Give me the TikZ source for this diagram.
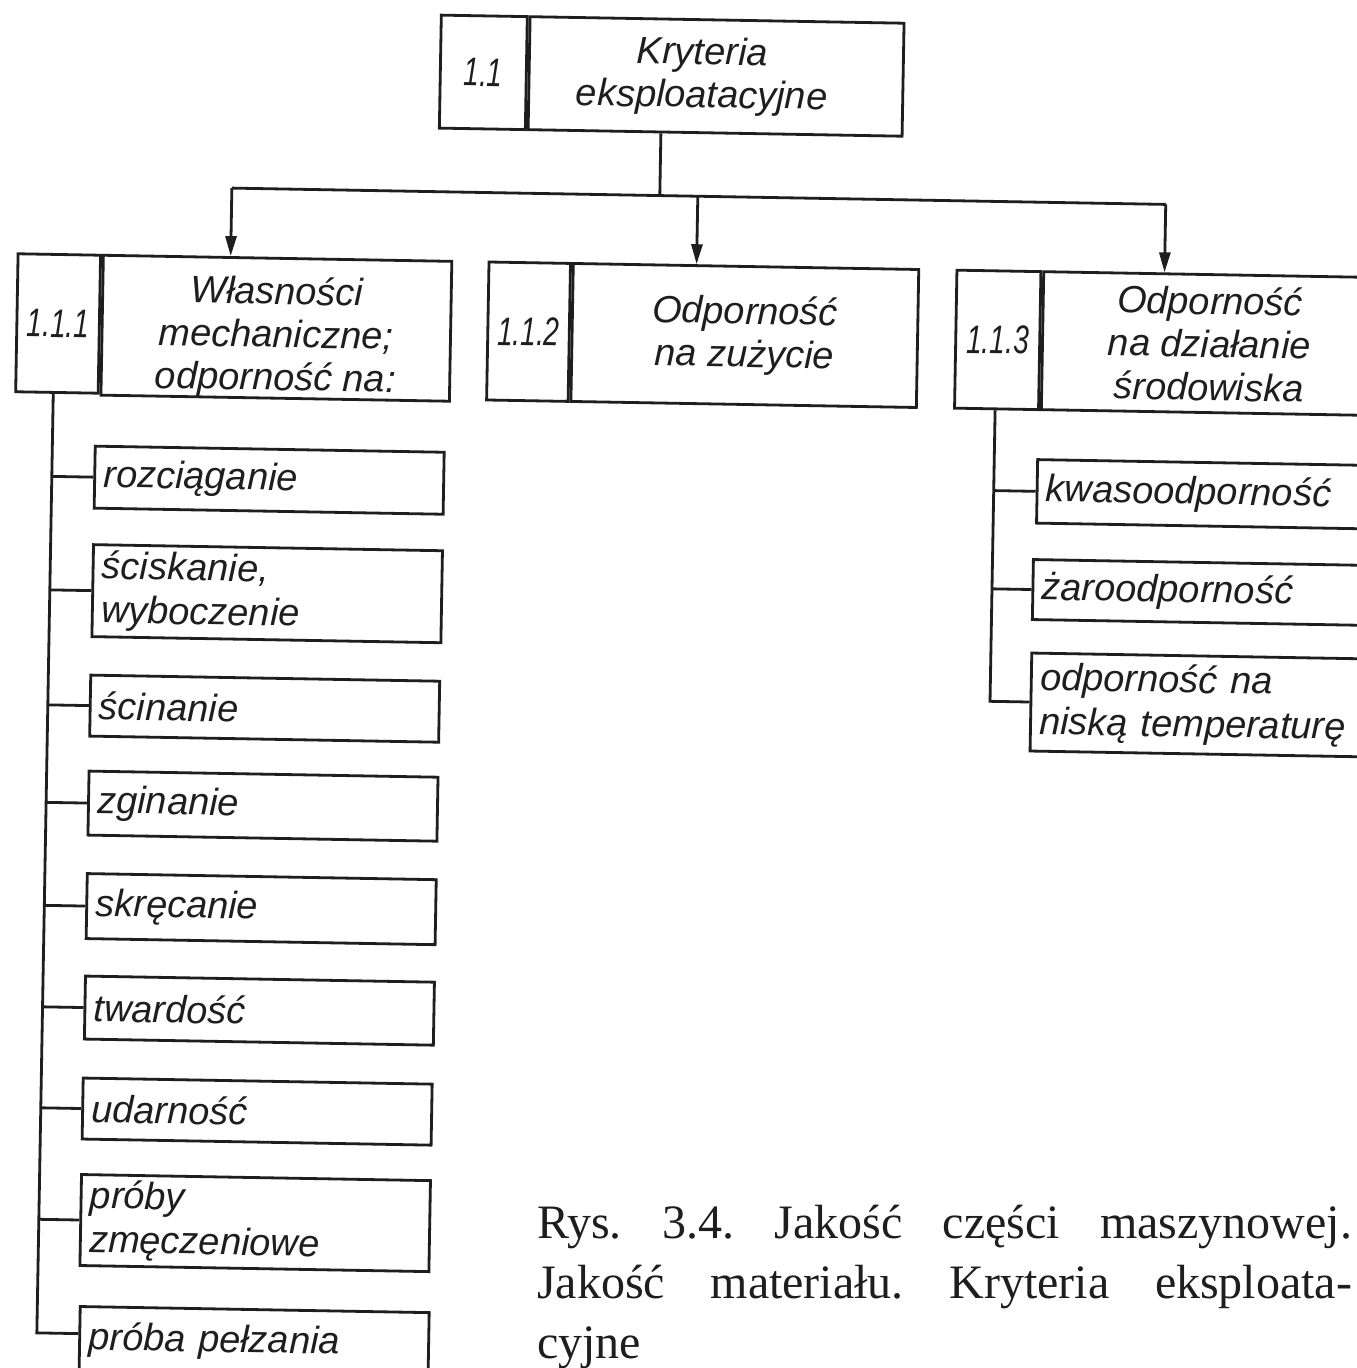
\documentclass[tikz,border=0pt]{standalone}
\usepackage{fontspec}
\usetikzlibrary{arrows.meta}
\newfontfamily\lsans{Liberation Sans}
\newfontfamily\lnum[FakeStretch=0.7]{Liberation Sans}
\newfontfamily\lserif{Liberation Serif}
\definecolor{ink}{HTML}{1E1E1E}
\begin{document}
\begin{tikzpicture}[x=1pt,y=-1pt,
  cell/.style={draw=ink, line width=2.8pt, rectangle, inner sep=0pt, anchor=north west, text=ink},
  num/.style={cell, font=\lnum\itshape\fontsize{40}{44}\selectfont},
  head/.style={cell, align=center, font=\lsans\itshape\fontsize{38}{43}\selectfont},
  item/.style={cell, align=left, inner xsep=9pt, text width=331pt, font=\lsans\itshape\fontsize{38}{44}\selectfont},
  conn/.style={draw=ink, line width=2.8pt},
  arr/.style={conn, -{Triangle[length=20pt,width=11pt]}},
  captext/.style={inner sep=0pt, anchor=base west, text=ink, font=\lserif\frenchspacing\fontsize{48}{60}\selectfont},
]
\useasboundingbox (0,0) rectangle (1357,1368);
\fill[white] (0,0) rectangle (1357,1368);
\clip (0,0) rectangle (1357,1368);

\begin{scope}[rotate around={-1:(680,700)}, transform shape]
  % top box
  \node[num, minimum width=86, minimum height=113] (n11) at (428,18) {1.1};
  \node[head, minimum width=374, minimum height=113] (t11) at (n11.north east) {Kryteria\hspace*{28pt}\\eksploatacyjne\hspace*{28pt}};
  % second level
  \node[num, minimum width=82.5, minimum height=138] (n111) at (9,264) {1.1.1};
  \node[head, minimum width=348.5, minimum height=138] (t111) at (n111.north east) {\rule{0pt}{46pt}Własności\\mechaniczne;\\odporność na:};
  \node[num, minimum width=81.5, minimum height=138] (n112) at (480,264) {1.1.2};
  \node[head, minimum width=345.5, minimum height=138] (t112) at (n112.north east) {Odporność\\na zużycie};
  \node[num, minimum width=84, minimum height=138] (n113) at (948,264) {1.1.3};
  \node[head, minimum width=334, minimum height=138] (t113) at (n113.north east) {Odporność\\na działanie\\środowiska};
  % left list
  \node[item, minimum height=62] (i1) at (89.5,455) {rozciąganie};
  \node[item, minimum height=92] (i2) at (89.5,553.5) {ściskanie,\\wyboczenie};
  \node[item, minimum height=61] (i3) at (89,684) {ścinanie};
  \node[item, minimum height=64] (i4) at (89,780) {zginanie};
  \node[item, minimum height=65] (i5) at (89,882.5) {skręcanie};
  \node[item, minimum height=63] (i6) at (89,985) {twardość};
  \node[item, minimum height=61] (i7) at (88.5,1087) {udarność};
  \node[item, minimum height=91] (i8) at (88.5,1183.5) {próby\\zmęczeniowe};
  \node[item, minimum height=66] (i9) at (89.5,1315.5) {próba pełzania};
  % right list
  \node[item, minimum height=63.5] (r1) at (1032,452) {kwasoodporność};
  \node[item, minimum height=60] (r2) at (1029.5,552) {żaroodporność};
  \node[item, minimum height=98] (r3) at (1029.5,645.5) {odporność na\\niską temperaturę};
  % connectors
  \coordinate (jt) at (651,196);
  \coordinate (jl) at (223,196);
  \coordinate (jm) at (689,196);
  \coordinate (jr) at (1157,196);
  \draw[conn] (t11.south -| jt) -- (jt);
  \draw[conn] (jl) -- (jr);
  \draw[arr] (jl) -- (t111.north -| jl);
  \draw[arr] (jm) -- (t112.north -| jm);
  \draw[arr] (jr) -- (t113.north -| jr);
  % left trunk
  \coordinate (lb) at (48,1344);
  \draw[conn] (n111.south -| lb) -- (lb) -- (lb -| i9.west);
  \foreach \i in {i1,i2,i3,i4,i5,i6,i7,i8}
    \draw[conn] (\i.west) -- (\i.west -| lb);
  % right trunk
  \coordinate (rb) at (990,0);
  \draw[conn] (n113.south -| rb) -- (rb |- r3.west) -- (r3.west);
  \foreach \i in {r1,r2}
    \draw[conn] (\i.west) -- (\i.west -| rb);
\end{scope}

% caption
\node[captext] (c1) at (537,1238) {\makebox[815pt][s]{Rys. 3.4. Jakość części maszynowej.}};
\node[captext] (c2) at (537,1298) {\makebox[815pt][s]{Jakość materiału. Kryteria eksploata-}};
\node[captext] (c3) at (537,1358) {cyjne};
\end{tikzpicture}
\end{document}
